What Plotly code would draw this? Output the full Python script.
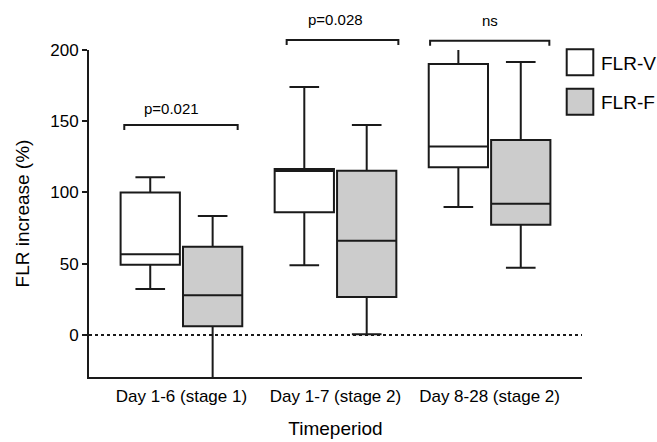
import plotly.graph_objects as go

categories = ["Day 1-6 (stage 1)", "Day 1-7 (stage 2)", "Day 8-28 (stage 2)"]

# FLR-V summary statistics (%)
v_lower = [32.3, 48.9, 89.8]
v_q1 = [49.3, 86.1, 117.7]
v_median = [56.6, 115.0, 132.2]
v_q3 = [100.0, 116.5, 190.2]
v_upper = [110.7, 174.0, 205.0]

# FLR-F summary statistics (%)
f_lower = [-35.0, 0.5, 47.2]
f_q1 = [6.1, 26.7, 77.4]
f_median = [27.8, 66.2, 92.1]
f_q3 = [62.0, 115.3, 136.8]
f_upper = [83.5, 147.4, 191.6]

# significance brackets: (left idx, right idx, bracket y, label, label x, label y)
brackets = [
    (-0.371, 0.365, 147.4, "p=0.021", -0.062, 158.6),
    (0.683, 1.408, 207.0, "p=0.028", 0.997, 221.3),
    (1.614, 2.388, 206.5, "ns", 2.006, 220.4),
]

XR = [-0.6, 2.6]
YR = [-29.5, 200]
FONT = "Liberation Sans, Arial, sans-serif"

fig = go.Figure()
fig.add_trace(go.Box(
    name="FLR-V", x=categories, q1=v_q1, median=v_median, q3=v_q3,
    lowerfence=v_lower, upperfence=v_upper, boxpoints=False,
    fillcolor="white", line=dict(color="#1a1a1a", width=2), whiskerwidth=0.5,
))
fig.add_trace(go.Box(
    name="FLR-F", x=categories, q1=f_q1, median=f_median, q3=f_q3,
    lowerfence=f_lower, upperfence=f_upper, boxpoints=False,
    fillcolor="#cccccc", line=dict(color="#1a1a1a", width=2), whiskerwidth=0.5,
))

def px_(v):
    return (v - XR[0]) / (XR[1] - XR[0])

def py_(v):
    return (v - YR[0]) / (YR[1] - YR[0])

shapes = []
annotations = []
tick = 3.5
for x0, x1, yb, label, lx, ly in brackets:
    shapes.append(dict(type="path", xref="paper", yref="paper",
                       path=f"M{px_(x0)},{py_(yb - tick)} L{px_(x0)},{py_(yb)} L{px_(x1)},{py_(yb)} L{px_(x1)},{py_(yb - tick)}",
                       line=dict(color="#1a1a1a", width=2)))
    annotations.append(dict(text=label, xref="paper", yref="paper", x=px_(lx), y=py_(ly),
                            xanchor="center", yanchor="middle", showarrow=False,
                            font=dict(size=15, color="black", family=FONT)))

# zero reference line
shapes.append(dict(type="line", xref="paper", yref="y", x0=0, x1=1, y0=0, y1=0,
                   line=dict(color="#1a1a1a", width=2, dash="dot"), layer="below"))

# legend (custom, large swatches)
legend_items = [("FLR-V", "white", 0), ("FLR-F", "#cccccc", 1)]
for name, col, i in legend_items:
    top = 0.7 - i * 39.4
    shapes.append(dict(type="rect", xref="paper", yref="paper", xsizemode="pixel", ysizemode="pixel",
                       xanchor=1, yanchor=1, x0=-15.3, x1=11.3, y0=top, y1=top - 26,
                       fillcolor=col, line=dict(color="#1a1a1a", width=2)))
    annotations.append(dict(text=name, xref="paper", yref="paper", x=1, y=1, xshift=17,
                            yshift=-13.5 - i * 39, xanchor="left", yanchor="middle", showarrow=False,
                            font=dict(size=19, color="black", family=FONT)))

fig.update_layout(
    width=657, height=442,
    margin=dict(l=89, r=75, t=50, b=65),
    paper_bgcolor="white", plot_bgcolor="white",
    boxmode="group", boxgap=0.19, boxgroupgap=0.05,
    showlegend=False,
    font=dict(family=FONT, color="black", size=17),
    shapes=shapes, annotations=annotations,
    xaxis=dict(range=XR, showline=True, linecolor="#1a1a1a", linewidth=2, showgrid=False,
               zeroline=False, ticks="", tickfont=dict(size=17), ticklabelstandoff=3,
               automargin=False,
               title=dict(text="Timeperiod", font=dict(size=19), standoff=16)),
    yaxis=dict(range=YR, showline=True, linecolor="#1a1a1a", linewidth=2, showgrid=False,
               zeroline=False, ticks="outside", ticklen=5, tickwidth=2, tickcolor="#1a1a1a",
               tickvals=[0, 50, 100, 150, 200], tickfont=dict(size=17), automargin=False,
               title=dict(text="FLR increase (%)", font=dict(size=19), standoff=16)),
)

fig.write_html("out.html")
